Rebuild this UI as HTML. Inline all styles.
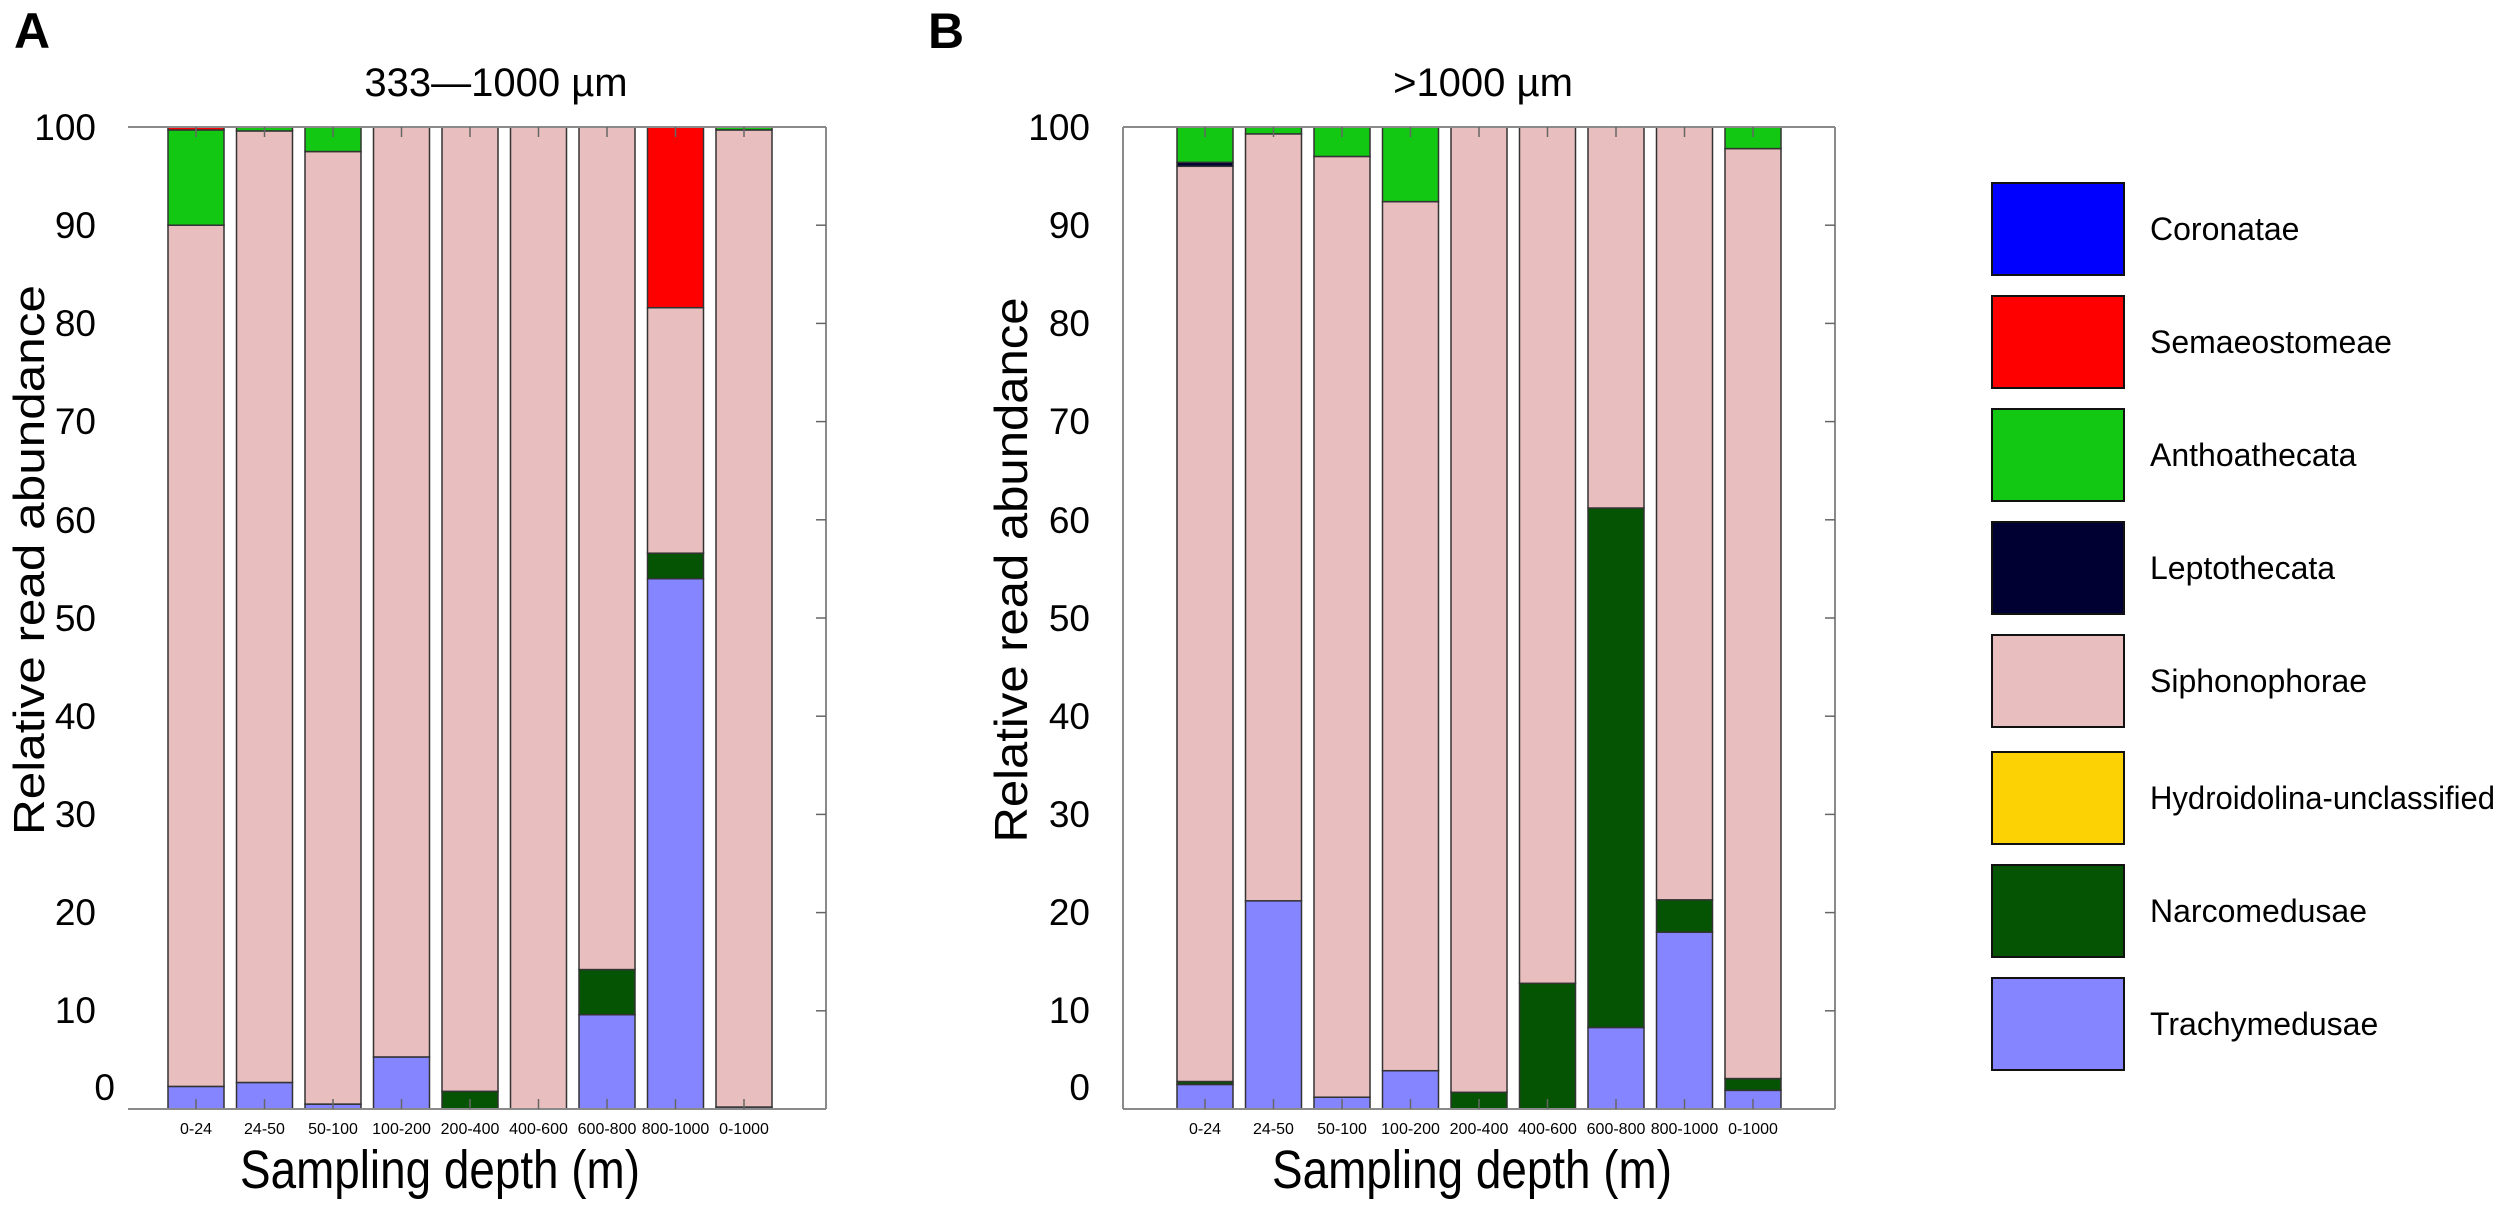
<!DOCTYPE html>
<html><head><meta charset="utf-8"><style>
html,body{margin:0;padding:0;background:#fff;}
svg{display:block;}
text{font-family:"Liberation Sans",sans-serif;fill:#000;}
</style></head><body>
<svg id="s" width="2500" height="1205" viewBox="0 0 2500 1205" xmlns="http://www.w3.org/2000/svg">
<rect width="2500" height="1205" fill="#fff"/>
<g id="bars"></g>
<g stroke="#8a8a8a" stroke-width="2" fill="none">
<line x1="128" y1="127" x2="826" y2="127"/>
<line x1="128" y1="1109" x2="826" y2="1109"/>
<line x1="826" y1="127" x2="826" y2="1109"/>
<line x1="1123" y1="127" x2="1835" y2="127"/>
<line x1="1123" y1="1109" x2="1835" y2="1109"/>
<line x1="1835" y1="127" x2="1835" y2="1109"/>
<line x1="1123" y1="127" x2="1123" y2="1109"/>
</g>
<g id="ticks" stroke="#666" stroke-width="1.5"></g>
<text x="14" y="48" font-size="50" font-weight="bold">A</text>
<text x="928" y="48" font-size="50" font-weight="bold">B</text>
<text x="496" y="96" font-size="40" text-anchor="middle">333—1000 µm</text>
<text x="1483" y="96" font-size="40" text-anchor="middle">&gt;1000 µm</text>
<g font-size="37" text-anchor="end">
<text x="96" y="140">100</text>
<text x="96" y="238">90</text>
<text x="96" y="336">80</text>
<text x="96" y="434">70</text>
<text x="96" y="533">60</text>
<text x="96" y="631">50</text>
<text x="96" y="729">40</text>
<text x="96" y="827">30</text>
<text x="96" y="925">20</text>
<text x="96" y="1023">10</text>
<text x="115" y="1100">0</text>
<text x="1090" y="140">100</text>
<text x="1090" y="238">90</text>
<text x="1090" y="336">80</text>
<text x="1090" y="434">70</text>
<text x="1090" y="533">60</text>
<text x="1090" y="631">50</text>
<text x="1090" y="729">40</text>
<text x="1090" y="827">30</text>
<text x="1090" y="925">20</text>
<text x="1090" y="1023">10</text>
<text x="1090" y="1100">0</text>
</g>
<text transform="translate(44,560) rotate(-90)" font-size="44" text-anchor="middle" textLength="550" lengthAdjust="spacingAndGlyphs">Relative read abundance</text>
<text transform="translate(1027,570) rotate(-90)" font-size="46" text-anchor="middle" textLength="545" lengthAdjust="spacingAndGlyphs">Relative read abundance</text>
<g font-size="16" text-anchor="middle" fill="#222">
<text x="196" y="1134">0-24</text>
<text x="264.5" y="1134">24-50</text>
<text x="333" y="1134">50-100</text>
<text x="401.5" y="1134">100-200</text>
<text x="470" y="1134">200-400</text>
<text x="538.5" y="1134">400-600</text>
<text x="607" y="1134">600-800</text>
<text x="675.5" y="1134">800-1000</text>
<text x="744" y="1134">0-1000</text>
<text x="1205" y="1134">0-24</text>
<text x="1273.5" y="1134">24-50</text>
<text x="1342" y="1134">50-100</text>
<text x="1410.5" y="1134">100-200</text>
<text x="1479" y="1134">200-400</text>
<text x="1547.5" y="1134">400-600</text>
<text x="1616" y="1134">600-800</text>
<text x="1684.5" y="1134">800-1000</text>
<text x="1753" y="1134">0-1000</text>
</g>
<text x="440" y="1188" font-size="54" text-anchor="middle" textLength="400" lengthAdjust="spacingAndGlyphs">Sampling depth (m)</text>
<text x="1472" y="1188" font-size="54" text-anchor="middle" textLength="400" lengthAdjust="spacingAndGlyphs">Sampling depth (m)</text>
<g stroke="#111" stroke-width="2">
<rect x="1992" y="183" width="132" height="92" fill="#0000ff"/>
<rect x="1992" y="296" width="132" height="92" fill="#ff0000"/>
<rect x="1992" y="409" width="132" height="92" fill="#12c812"/>
<rect x="1992" y="522" width="132" height="92" fill="#000033"/>
<rect x="1992" y="635" width="132" height="92" fill="#e8bfbe"/>
<rect x="1992" y="752" width="132" height="92" fill="#fdd204"/>
<rect x="1992" y="865" width="132" height="92" fill="#045404"/>
<rect x="1992" y="978" width="132" height="92" fill="#8585ff"/>
</g>
<g font-size="32">
<text x="2150" y="240">Coronatae</text>
<text x="2150" y="353">Semaeostomeae</text>
<text x="2150" y="466">Anthoathecata</text>
<text x="2150" y="579">Leptothecata</text>
<text x="2150" y="692">Siphonophorae</text>
<text x="2150" y="809" textLength="345" lengthAdjust="spacingAndGlyphs">Hydroidolina-unclassified</text>
<text x="2150" y="922">Narcomedusae</text>
<text x="2150" y="1035">Trachymedusae</text>
</g>
</svg>
<script>
var C={T:"#8585ff",N:"#045404",S:"#e8bfbe",G:"#12c812",R:"#ff0000",L:"#000033"};
function y(p){return 1109-9.82*p;}
var A=[[["T",2.3],["S",90],["G",99.7],["R",100]],
[["T",2.7],["S",99.6],["G",100]],
[["T",0.5],["S",97.5],["G",100]],
[["T",5.3],["S",100]],
[["N",1.8],["S",100]],
[["S",100]],
[["T",9.6],["N",14.2],["S",100]],
[["T",54],["N",56.6],["S",81.6],["R",100]],
[["T",0.2],["S",99.7],["G",100]]];
var B=[[["T",2.5],["N",2.8],["S",96],["L",96.4],["G",100]],
[["T",21.2],["S",99.3],["G",100]],
[["T",1.2],["S",97.0],["G",100]],
[["T",3.9],["S",92.4],["G",100]],
[["N",1.7],["S",100]],
[["N",12.8],["S",100]],
[["T",8.3],["N",61.2],["S",100]],
[["T",18],["N",21.3],["S",100]],
[["T",1.9],["N",3.1],["S",97.8],["G",100]]];
var g=document.getElementById("bars"),h="";
function draw(D,x0){D.forEach(function(b,i){var x=x0+68.5*i,prev=0;b.forEach(function(s){
var t=y(s[1]),bo=y(prev);h+='<rect x="'+x+'" y="'+t+'" width="56" height="'+(bo-t)+'" fill="'+C[s[0]]+'" stroke="#333" stroke-width="1.5"/>';prev=s[1];});});}
draw(A,168);draw(B,1177);
g.innerHTML=h;
var tk="";
function ticks(x0,right){for(var i=0;i<9;i++){var c=x0+28+68.5*i;tk+='<line x1="'+c+'" y1="127" x2="'+c+'" y2="137"/><line x1="'+c+'" y1="1109" x2="'+c+'" y2="1099"/>';}
for(var k=1;k<10;k++){var yy=y(k*10);tk+='<line x1="'+right+'" y1="'+yy+'" x2="'+(right-10)+'" y2="'+yy+'"/>';}}
ticks(168,826);ticks(1177,1835);
document.getElementById("ticks").innerHTML=tk;
</script>
</body></html>
